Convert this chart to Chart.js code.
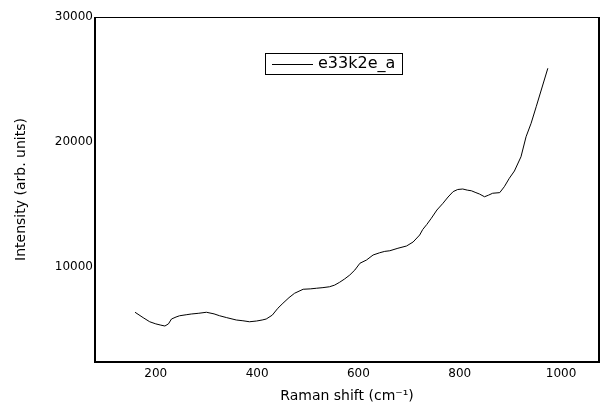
<!DOCTYPE html>
<html>
<head>
<meta charset="utf-8">
<script src="https://cdn.jsdelivr.net/npm/chart.js@4.4.0/dist/chart.umd.min.js"></script>
<style>
  html, body { margin: 0; padding: 0; background: #fff; }
</style>
</head>
<body>
<canvas id="raman-chart" width="614" height="410"></canvas>
<script>
var seriesName = 'e33k2e_a';

var ramanShift = [159, 175, 188, 200, 210, 218, 225, 231, 240, 247, 260, 270, 285, 300, 315, 326, 340, 359, 372, 385,
  399, 410, 418, 430, 441, 451, 463, 474, 491, 505, 517, 530, 543, 553, 563, 573, 583, 593, 603, 616,
  629, 642, 652, 662, 678, 695, 708, 721, 727, 735, 744, 755, 767, 777, 787, 796, 806, 815, 823, 832,
  839, 849, 857, 865, 879, 888, 898, 908, 921, 931, 941, 951, 961, 974];

var intensity = [6380, 5950, 5620, 5450, 5350, 5280, 5450, 5840, 6000, 6100, 6180, 6240, 6300, 6380, 6250, 6100, 5950, 5760, 5700, 5620,
  5680, 5760, 5840, 6150, 6700, 7100, 7550, 7900, 8220, 8250, 8300, 8350, 8420, 8550, 8780, 9050, 9360, 9760, 10300, 10560,
  10960, 11140, 11250, 11300, 11500, 11680, 12000, 12560, 13000, 13400, 13900, 14560, 15100, 15600, 16030, 16200, 16240, 16150, 16100, 15950,
  15840, 15620, 15750, 15900, 15950, 16420, 17100, 17680, 18820, 20420, 21500, 22820, 24160, 25900];

var xTicks = [200, 400, 600, 800, 1000];
var yTicks = [10000, 20000, 30000];

var points = ramanShift.map(function (x, i) {
  return { x: x, y: intensity[i] };
});

Chart.defaults.font.family = '"DejaVu Sans", sans-serif';
Chart.defaults.color = '#000';

// frame round the plot + the boxed legend inside it
var framePlugin = {
  id: 'frame',
  afterDraw: function (chart) {
    var ctx = chart.ctx;
    var a = chart.chartArea;
    ctx.save();
    ctx.strokeStyle = '#000';
    ctx.lineWidth = 1;
    ctx.beginPath();
    ctx.moveTo(a.left, a.top + 0.5);
    ctx.lineTo(a.right, a.top + 0.5);
    ctx.stroke();
    ctx.lineWidth = 2;
    ctx.beginPath();
    ctx.moveTo(a.left, a.top);
    ctx.lineTo(a.left, a.bottom);
    ctx.lineTo(a.right, a.bottom);
    ctx.lineTo(a.right, a.top);
    ctx.stroke();

    var bx = a.left + 170, by = a.top + 36, bw = 137, bh = 21;
    ctx.fillStyle = '#fff';
    ctx.fillRect(bx, by, bw, bh);
    ctx.lineWidth = 1;
    ctx.strokeRect(bx + 0.5, by + 0.5, bw, bh);
    ctx.beginPath();
    ctx.moveTo(bx + 7, by + 11.5);
    ctx.lineTo(bx + 48, by + 11.5);
    ctx.stroke();
    ctx.fillStyle = '#000';
    ctx.font = '16px "DejaVu Sans", sans-serif';
    ctx.textBaseline = 'middle';
    ctx.textAlign = 'left';
    ctx.fillText(chart.data.datasets[0].label, bx + 53, by + 11);
    ctx.restore();
  }
};

new Chart(document.getElementById('raman-chart'), {
  type: 'line',
  data: {
    datasets: [{
      label: seriesName,
      data: points,
      borderColor: '#000',
      borderWidth: 1,
      pointRadius: 0,
      fill: false,
      tension: 0
    }]
  },
  options: {
    responsive: false,
    animation: false,
    layout: {
      padding: { top: 17, right: 15, left: 0, bottom: 0 }
    },
    plugins: {
      legend: { display: false },
      tooltip: { enabled: false }
    },
    scales: {
      x: {
        type: 'linear',
        min: 80,
        max: 1075,
        grid: { display: false, drawTicks: false },
        border: { display: false },
        afterBuildTicks: function (scale) {
          scale.ticks = xTicks.map(function (v) { return { value: v }; });
        },
        afterFit: function (scale) {
          scale.height = 48;
        },
        ticks: {
          padding: 5,
          maxRotation: 0,
          font: { size: 12 },
          callback: function (v) { return v; }
        },
        title: {
          display: true,
          text: 'Raman shift (cm⁻¹)',
          font: { size: 14 },
          padding: { top: 0, bottom: 5 }
        }
      },
      y: {
        min: 2400,
        max: 30000,
        grid: { display: false, drawTicks: false },
        border: { display: false },
        afterBuildTicks: function (scale) {
          scale.ticks = yTicks.map(function (v) { return { value: v }; });
        },
        afterFit: function (scale) {
          scale.width = 95;
        },
        ticks: {
          padding: 2,
          font: { size: 12 },
          callback: function (v) { return v; }
        },
        title: {
          display: true,
          text: 'Intensity (arb. units)',
          font: { size: 14 },
          padding: { top: 13, bottom: 0 }
        }
      }
    }
  },
  plugins: [framePlugin]
});
</script>
</body>
</html>
